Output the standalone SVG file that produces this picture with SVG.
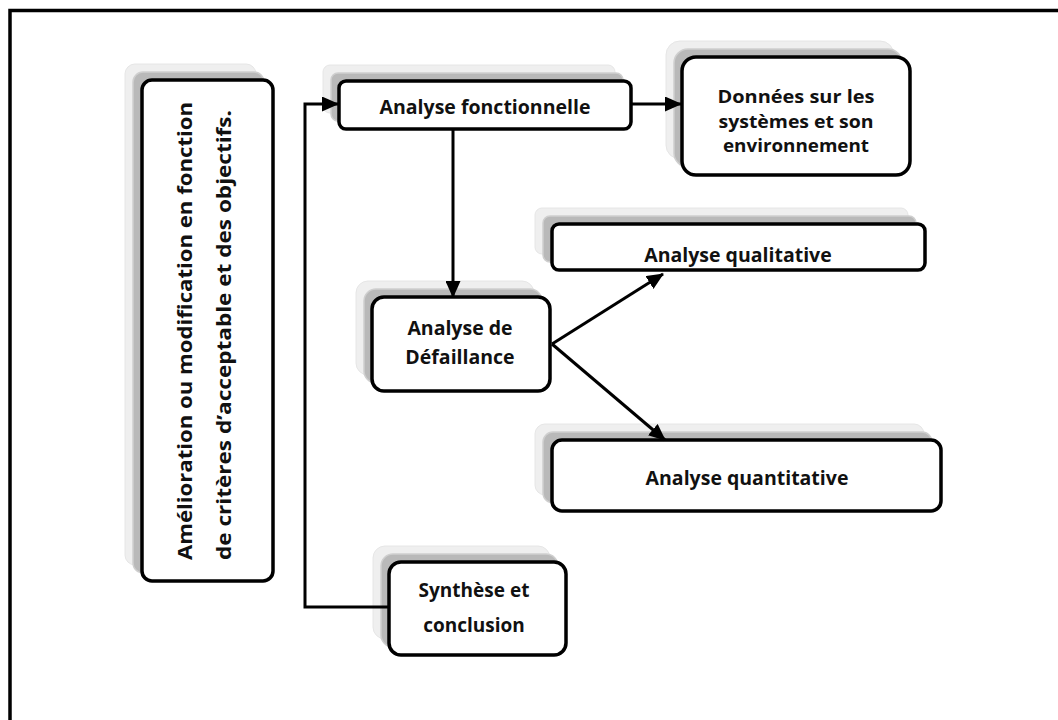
<svg xmlns="http://www.w3.org/2000/svg" width="1058" height="720" viewBox="0 0 1058 720">
  <defs>
    <marker id="arrow" markerUnits="userSpaceOnUse" markerWidth="17" markerHeight="15" refX="16" refY="7.5" orient="auto">
      <path d="M0,0 L17,7.5 L0,15 Z" fill="#000"/>
    </marker>
  </defs>
  <style>
    .frame { fill: none; stroke: #000; stroke-width: 3.5; }
    .sh1 { fill: #efefef; stroke: #e6e6e6; stroke-width: 1; }
    .sh2 { fill: #b9b9b9; stroke: #cfcfcf; stroke-width: 1.5; }
    .box { fill: #fff; stroke: #000; stroke-width: 3.5; }
    .lbl { font-family: "Open Sans", "Noto Sans", "Liberation Sans", sans-serif; font-weight: bold; fill: #111; text-anchor: middle; }
    .conn { fill: none; stroke: #000; stroke-width: 3; }
  </style>

  <rect width="1058" height="720" fill="#fff"/>
  <rect class="frame" x="10" y="10.5" width="1070" height="730"/>

  <!-- improvement loop box (vertical text) -->
  <g id="node-amelioration">
    <rect class="sh1" x="125" y="64" width="131" height="501" rx="10"/>
    <rect class="sh2" x="133" y="72" width="131" height="501" rx="10"/>
    <rect class="box" x="142" y="80" width="131" height="501" rx="10"/>
    <text class="lbl" font-size="20" transform="translate(192,331) rotate(-90)" text-anchor="middle" textLength="458" lengthAdjust="spacingAndGlyphs">Amélioration ou modification en  fonction</text>
    <text class="lbl" font-size="20" transform="translate(231,335) rotate(-90)" text-anchor="middle" textLength="450" lengthAdjust="spacingAndGlyphs">de critères d’acceptable et des objectifs.</text>
  </g>

  <g id="node-analyse-fonctionnelle">
    <rect class="sh1" x="323" y="65" width="292" height="48" rx="7"/>
    <rect class="sh2" x="331" y="73" width="292" height="48" rx="7"/>
    <rect class="box" x="339" y="81" width="292" height="48" rx="7"/>
    <text class="lbl" font-size="19.5" x="485" y="114">Analyse fonctionnelle</text>
  </g>

  <g id="node-donnees">
    <rect class="sh1" x="666" y="41" width="228" height="118" rx="14"/>
    <rect class="sh2" x="674" y="49" width="228" height="118" rx="14"/>
    <rect class="box" x="682" y="57" width="228" height="118" rx="14"/>
    <text class="lbl" font-size="18" x="796" y="103" textLength="157" lengthAdjust="spacingAndGlyphs">Données sur les</text>
    <text class="lbl" font-size="18" x="796" y="127.5" textLength="155" lengthAdjust="spacingAndGlyphs">systèmes et son</text>
    <text class="lbl" font-size="18" x="796" y="152" textLength="146" lengthAdjust="spacingAndGlyphs">environnement</text>
  </g>

  <g id="node-defaillance">
    <rect class="sh1" x="356" y="281" width="178" height="94" rx="12"/>
    <rect class="sh2" x="364" y="289" width="178" height="94" rx="12"/>
    <rect class="box" x="372" y="297" width="178" height="94" rx="12"/>
    <text class="lbl" font-size="19.5" x="460" y="335">Analyse de</text>
    <text class="lbl" font-size="19.5" x="460" y="364">Défaillance</text>
  </g>

  <g id="node-qualitative">
    <rect class="sh1" x="535" y="208" width="373" height="46" rx="7"/>
    <rect class="sh2" x="543" y="216" width="373" height="46" rx="7"/>
    <rect class="box" x="552" y="224" width="373" height="46" rx="7"/>
    <text class="lbl" font-size="19.5" x="738" y="262">Analyse qualitative</text>
  </g>

  <g id="node-quantitative">
    <rect class="sh1" x="535" y="424" width="389" height="71" rx="10"/>
    <rect class="sh2" x="543" y="432" width="389" height="71" rx="10"/>
    <rect class="box" x="552" y="440" width="389" height="71" rx="10"/>
    <text class="lbl" font-size="19.5" x="747" y="485">Analyse quantitative</text>
  </g>

  <g id="node-synthese">
    <rect class="sh1" x="373" y="546" width="177" height="93" rx="12"/>
    <rect class="sh2" x="381" y="554" width="177" height="93" rx="12"/>
    <rect class="box" x="389" y="562" width="177" height="93" rx="12"/>
    <text class="lbl" font-size="19" x="474" y="597">Synthèse et</text>
    <text class="lbl" font-size="19" x="474" y="632">conclusion</text>
  </g>

  <g id="connectors">
    <path class="conn" d="M389,607 H305 V104 H338" marker-end="url(#arrow)"/>
    <path class="conn" d="M631,104 H681" marker-end="url(#arrow)"/>
    <path class="conn" d="M453,129 V297" marker-end="url(#arrow)"/>
    <path class="conn" d="M552,344 L663,274" marker-end="url(#arrow)"/>
    <path class="conn" d="M552,344 L665,440" marker-end="url(#arrow)"/>
  </g>
</svg>
